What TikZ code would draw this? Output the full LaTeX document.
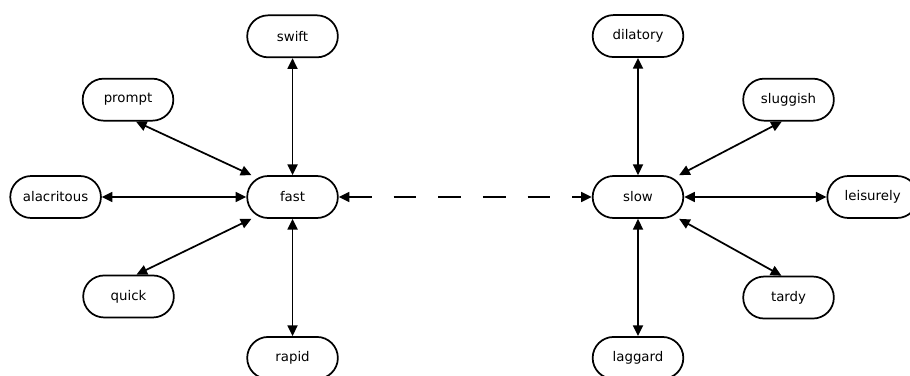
\documentclass[tikz,border=0pt]{standalone}
\usepackage{fontspec}
\setmainfont{DejaVu Sans}
\usetikzlibrary{arrows.meta, positioning}
\begin{document}
\begin{tikzpicture}[on grid, word/.style={draw, line width=1.3pt, rounded corners=15.75pt, minimum width=68pt, minimum height=31.5pt, inner sep=0pt, font=\fontsize{10}{12}\selectfont}, link/.style={{Triangle[length=8pt,width=7.5pt]}-{Triangle[length=8pt,width=7.5pt]}, line width=1.3pt}]
	\useasboundingbox (-219.4pt,-133.5pt) rectangle (463.1pt,147.75pt);
	\node[word] (fast) at (0,0) {fast};
	\node[word, above=120.5pt of fast] (swift) {swift};
	\node[word, above left=73pt and 123.4pt of fast] (prompt) {prompt};
	\node[word, left=177.7pt of fast] (alacritous) {alacritous};
	\node[word, below left=74.6pt and 123pt of fast] (quick) {quick};
	\node[word, below=120.7pt of fast] (rapid) {rapid};
	\node[word, right=259.1pt of fast] (slow) {slow};
	\node[word, above=120.7pt of slow] (dilatory) {dilatory};
	\node[word, above right=73pt and 112.9pt of slow] (sluggish) {sluggish};
	\node[word, right=176pt of slow] (leisurely) {leisurely};
	\node[word, below right=75.4pt and 112.9pt of slow] (tardy) {tardy};
	\node[word, below=120.7pt of slow] (laggard) {laggard};
	\draw[link] (swift.south) -- (fast.north);
	\draw[link] (prompt.-70) -- (fast.152);
	\draw[link] (alacritous.east) -- (fast.west);
	\draw[link] (quick.70) -- (fast.208);
	\draw[link] (rapid.north) -- (fast.south);
	\draw[link, dash pattern=on 17pt off 16.5pt] (fast.east) -- (slow.west);
	\draw[link] (dilatory.south) -- (slow.north);
	\draw[link] (sluggish.253) -- (slow.28);
	\draw[link] (leisurely.west) -- (slow.east);
	\draw[link] (tardy.108) -- (slow.332);
	\draw[link] (laggard.north) -- (slow.south);
\end{tikzpicture}
\end{document}
